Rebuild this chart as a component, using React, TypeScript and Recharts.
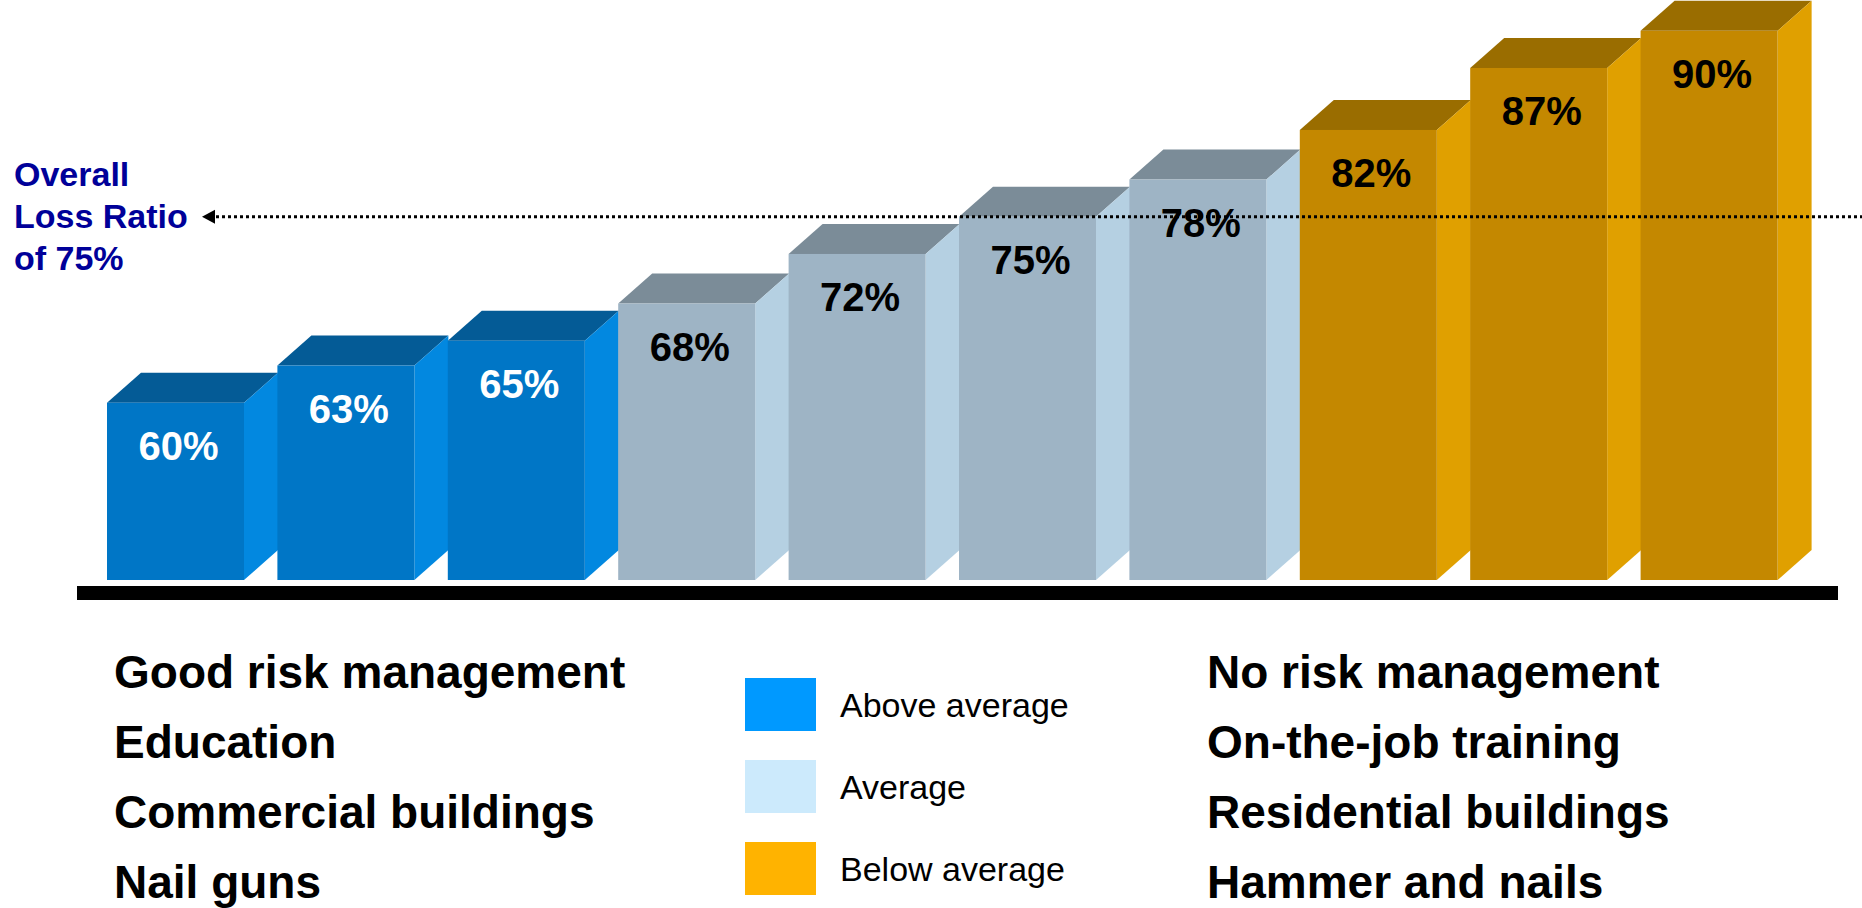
import React from 'react';
import { BarChart, Bar, XAxis, YAxis, LabelList, ReferenceLine } from 'recharts';

// bar values, left to right
const groups = ['g1', 'g2', 'g3', 'g4', 'g5', 'g6', 'g7', 'g8', 'g9', 'g10'];
const lossRatios = [60, 63, 65, 68, 72, 75, 78, 82, 87, 90];
const tiers = ['above', 'above', 'above', 'average', 'average', 'average', 'average', 'below', 'below', 'below'];
const overallRatio = 75;

const legendTiers = ['above', 'average', 'below'];
const legendLabels = ['Above average', 'Average', 'Below average'];
const overallLines = ['Overall', 'Loss Ratio', 'of 75%'];
const goodNotes = ['Good risk management', 'Education', 'Commercial buildings', 'Nail guns'];
const poorNotes = ['No risk management', 'On-the-job training', 'Residential buildings', 'Hammer and nails'];

const FONT = "'Liberation Sans', Arial, Helvetica, sans-serif";

const faces: Record<string, { front: string; top: string; side: string; label: string }> = {
  above: { front: '#0076c6', top: '#045b96', side: '#0288e0', label: '#ffffff' },
  average: { front: '#9eb4c5', top: '#7b8c98', side: '#b5d0e2', label: '#000000' },
  below: { front: '#c48800', top: '#9a6d00', side: '#e0a000', label: '#000000' },
};
const swatch: Record<string, string> = { above: '#0099ff', average: '#cceafc', below: '#ffb300' };

const chartData = groups.map((g, i) => ({ key: g, value: lossRatios[i], tier: tiers[i] }));

const DX = 34;
const DY = 30;

const Box3D = (props: any) => {
  const { x, y, width, height, payload } = props;
  const c = faces[payload.tier];
  const r = x + width;
  const b = y + height;
  return (
    <g>
      <polygon points={`${x},${y} ${x + DX},${y - DY} ${r + DX},${y - DY} ${r},${y}`} fill={c.top} />
      <polygon points={`${r},${y} ${r + DX},${y - DY} ${r + DX},${b - DY} ${r},${b}`} fill={c.side} />
      <rect x={x} y={y} width={width} height={height} fill={c.front} />
    </g>
  );
};

const OverallLine = (p: any) => {
  const ly = p.y1;
  return (
    <g>
      <line x1={216} y1={ly} x2={1862} y2={ly} stroke="#000" strokeWidth={3} strokeDasharray="3 3" />
      <polygon points={`202,${ly} 215,${ly - 7} 215,${ly + 7}`} fill="#000" />
      {overallLines.map((t, i) => (
        <text key={t} x={14} y={ly - 31 + i * 42} fontFamily={FONT} fontWeight="bold" fontSize={34} fill="#000099">
          {t}
        </text>
      ))}
    </g>
  );
};

const App: React.FC = () => {
  return (
    <div style={{ position: 'absolute', left: 0, top: 0, width: 1862, height: 908, background: '#fff' }}>
      <BarChart
        width={1862}
        height={908}
        data={chartData}
        margin={{ top: 6, right: 68, bottom: 328, left: 90 }}
        barSize={137}
      >
        <XAxis dataKey="key" type="category" hide />
        <YAxis type="number" domain={[45.7, 92]} hide />
        <Bar dataKey="value" isAnimationActive={false} shape={Box3D}>
          <LabelList
            dataKey="value"
            content={(p: any) => (
              <text
                x={p.x + p.width / 2 + 3}
                y={p.y + 57}
                textAnchor="middle"
                fontFamily={FONT}
                fontWeight="bold"
                fontSize={40}
                fill={faces[tiers[p.index]].label}
              >
                {p.value}%
              </text>
            )}
          />
        </Bar>
        <ReferenceLine y={overallRatio} shape={OverallLine} ifOverflow="visible" />
      </BarChart>

      <svg width={1862} height={908} style={{ position: 'absolute', left: 0, top: 0, pointerEvents: 'none' }}>
        <rect x={77} y={586} width={1761} height={14} fill="#000" />
        {goodNotes.map((t, i) => (
          <text key={t} x={114} y={688 + i * 70} fontFamily={FONT} fontWeight="bold" fontSize={46} fill="#000">
            {t}
          </text>
        ))}
        {poorNotes.map((t, i) => (
          <text key={t} x={1207} y={688 + i * 70} fontFamily={FONT} fontWeight="bold" fontSize={46} fill="#000">
            {t}
          </text>
        ))}
        {legendTiers.map((k, i) => (
          <g key={k}>
            <rect x={745} y={678 + i * 82} width={71} height={53} fill={swatch[k]} />
            <text x={840} y={717 + i * 82} fontFamily={FONT} fontSize={34} fill="#000">
              {legendLabels[i]}
            </text>
          </g>
        ))}
      </svg>
    </div>
  );
};

export default App;
